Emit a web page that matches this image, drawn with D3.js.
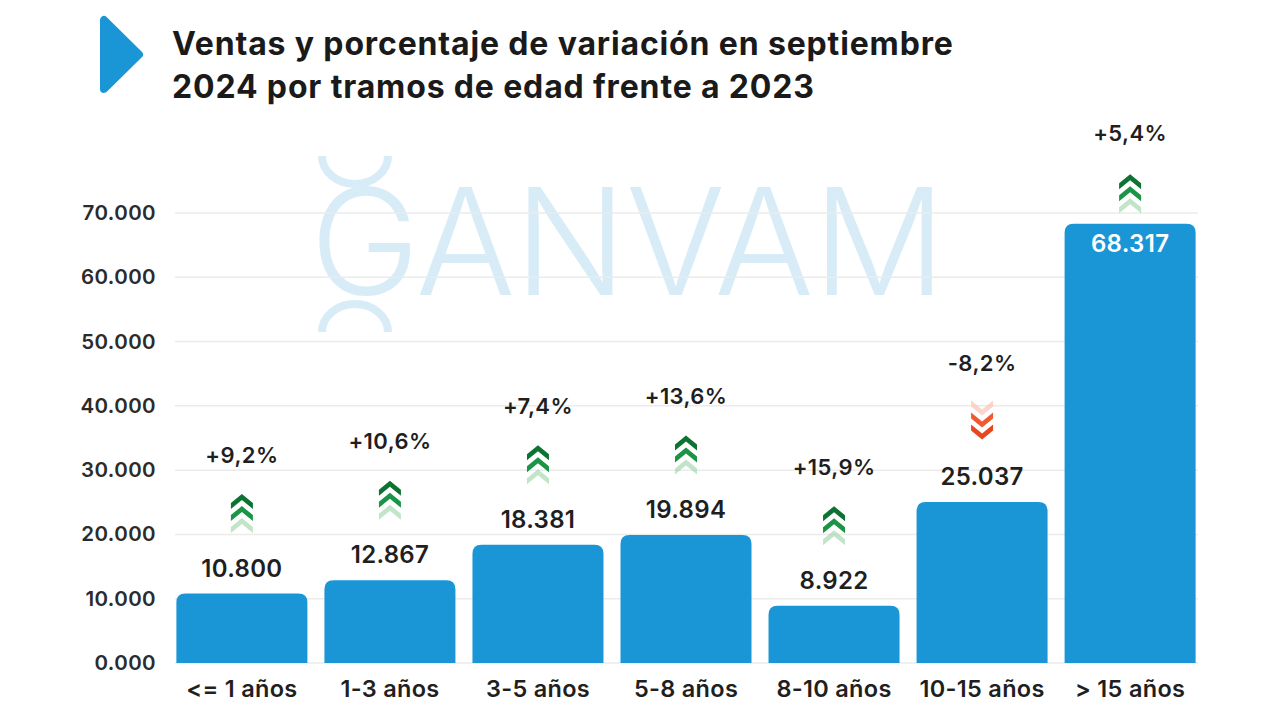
<!DOCTYPE html>
<html>
<head>
<meta charset="utf-8">
<script src="https://cdn.jsdelivr.net/npm/d3@7/dist/d3.min.js"></script>
<style>
  html, body { margin: 0; padding: 0; background: #ffffff; }
  svg { display: block; }
  text { font-family: Inter, "Noto Sans", sans-serif; }
</style>
</head>
<body>
<svg id="chart" width="1280" height="720"></svg>
<script>
// ---- Data ----
const categories = ["<= 1 años", "1-3 años", "3-5 años", "5-8 años", "8-10 años", "10-15 años", "> 15 años"];
const sales = [10800, 12867, 18381, 19894, 8922, 25037, 68317];
const variation = [9.2, 10.6, 7.4, 13.6, 15.9, -8.2, 5.4];
const yTickValues = [0, 10000, 20000, 30000, 40000, 50000, 60000, 70000];
const yTickLabels = ["0.000", "10.000", "20.000", "30.000", "40.000", "50.000", "60.000", "70.000"];
const titleLines = ["Ventas y porcentaje de variación en septiembre", "2024 por tramos de edad frente a 2023"];
const watermarkText = "GANVAM";

const BLUE = "#1a96d6";
const svg = d3.select("#chart");

const esLocale = d3.formatLocale({ decimal: ",", thousands: ".", grouping: [3], currency: ["", "€"], minus: "-" });
const fmtInt = esLocale.format(",d");
const fmtPct = esLocale.format("+.1f");

const x = d3.scaleBand().domain(categories).range([167.5, 1204.5]).paddingInner(0.115).paddingOuter(0.06);
const y = d3.scaleLinear().domain([0, 70000]).range([663, 213]);

// ---- Title & icon ----
svg.append("path")
  .attr("d", "M104,20 L104,89 L139,54.5 Z")
  .attr("fill", BLUE).attr("stroke", BLUE)
  .attr("stroke-width", 8).attr("stroke-linejoin", "round");

svg.append("g").selectAll("text").data(titleLines).join("text")
  .attr("x", 172).attr("y", (d, i) => 55 + i * 43)
  .attr("font-size", 32).attr("font-weight", 700).attr("fill", "#1a1a1a")
  .attr("letter-spacing", 0.85)
  .text(d => d);

// ---- Watermark ----
const wm = svg.append("g").attr("opacity", 0.17);
wm.append("text")
  .attr("x", 310).attr("y", 295)
  .attr("font-family", "Roboto, sans-serif")
  .attr("font-weight", 300).attr("font-size", 148)
  .attr("fill", BLUE)
  .attr("textLength", 636).attr("lengthAdjust", "spacing")
  .text(watermarkText);
wm.append("path").attr("d", "M322,156 A33,28 0 0 0 388,156")
  .attr("fill", "none").attr("stroke", BLUE).attr("stroke-width", 8);
wm.append("path").attr("d", "M322,332 A33,28 0 0 1 388,332")
  .attr("fill", "none").attr("stroke", BLUE).attr("stroke-width", 8);

// ---- Grid ----
svg.append("g").selectAll("line").data(yTickValues).join("line")
  .attr("x1", 175).attr("x2", 1198)
  .attr("y1", d => y(d)).attr("y2", d => y(d))
  .attr("stroke", "#ebebeb").attr("stroke-width", 1.5);

// ---- Y axis labels ----
const yAxis = d3.axisLeft(y).tickValues(yTickValues).tickFormat((d, i) => yTickLabels[i]).tickSize(0).tickPadding(0);
const yg = svg.append("g").attr("transform", "translate(156,0)").call(yAxis);
yg.select(".domain").remove();
yg.selectAll("text").attr("font-family", "Inter, sans-serif").attr("font-size", 20.5)
  .attr("font-weight", 600).attr("fill", "#2b2b2b").attr("letter-spacing", 0.4);

// ---- X axis labels ----
const xAxis = d3.axisBottom(x).tickSize(0).tickPadding(0);
const xg = svg.append("g").attr("transform", "translate(0,697)").call(xAxis);
xg.select(".domain").remove();
xg.selectAll("text").attr("dy", 0).attr("font-family", "Inter, sans-serif").attr("font-size", 23.5)
  .attr("font-weight", 600).attr("fill", "#1f1f1f").attr("letter-spacing", 0.3);

// ---- Bars ----
function barPath(x0, y0, w, h, r) {
  r = Math.min(r, h, w / 2);
  return `M${x0},${y0 + h} L${x0},${y0 + r} Q${x0},${y0} ${x0 + r},${y0} L${x0 + w - r},${y0} Q${x0 + w},${y0} ${x0 + w},${y0 + r} L${x0 + w},${y0 + h} Z`;
}
const data = categories.map((c, i) => ({ c, v: sales[i], p: variation[i] }));
svg.append("g").selectAll("path").data(data).join("path")
  .attr("d", d => barPath(x(d.c), y(d.v), x.bandwidth(), y(0) - y(d.v), 9))
  .attr("fill", BLUE);

// ---- Value labels ----
const inside = d => y(d.v) < 300;
svg.append("g").selectAll("text").data(data).join("text")
  .attr("x", d => x(d.c) + x.bandwidth() / 2)
  .attr("y", d => inside(d) ? y(d.v) + 28 : y(d.v) - 17)
  .attr("text-anchor", "middle")
  .attr("font-size", 24).attr("font-weight", 600)
  .attr("letter-spacing", 0.3)
  .attr("fill", d => inside(d) ? "#ffffff" : "#1f1f1f")
  .text(d => fmtInt(d.v));

// ---- Arrows ----
function chevron(cx, cy, up) {
  const s = up ? 1 : -1;
  const hw = 11, h = 9, t = 6;
  return `M${cx - hw},${cy + s * h / 2} L${cx},${cy - s * h / 2} L${cx + hw},${cy + s * h / 2} L${cx + hw},${cy + s * (h / 2 + t)} L${cx},${cy + s * (-h / 2 + t)} L${cx - hw},${cy + s * (h / 2 + t)} Z`;
}
const arrowG = svg.append("g");
data.forEach(d => {
  const cx = x(d.c) + x.bandwidth() / 2;
  const cy = inside(d) ? y(d.v) - 31 : y(d.v) - 81;
  const up = d.p >= 0;
  const cols = up ? ["#0d7332", "#1b9445", "#8fcf9f"] : ["#f9c6b8", "#ef5a32", "#e8461f"];
  const ops = up ? [1, 1, 0.55] : [0.75, 1, 1];
  [-12, 0, 12].forEach((off, k) => {
    arrowG.append("path")
      .attr("d", chevron(cx, cy + off - (up ? 1 : -1) * 2, up))
      .attr("fill", cols[k]).attr("opacity", ops[k]);
  });
});

// ---- Percent labels ----
svg.append("g").selectAll("text").data(data).join("text")
  .attr("x", d => x(d.c) + x.bandwidth() / 2)
  .attr("y", d => inside(d) ? y(d.v) - 83 : y(d.v) - 131)
  .attr("text-anchor", "middle")
  .attr("font-size", 22).attr("font-weight", 600).attr("fill", "#1f1f1f")
  .attr("letter-spacing", 0.4)
  .text(d => fmtPct(d.p) + "%");
</script>
</body>
</html>
